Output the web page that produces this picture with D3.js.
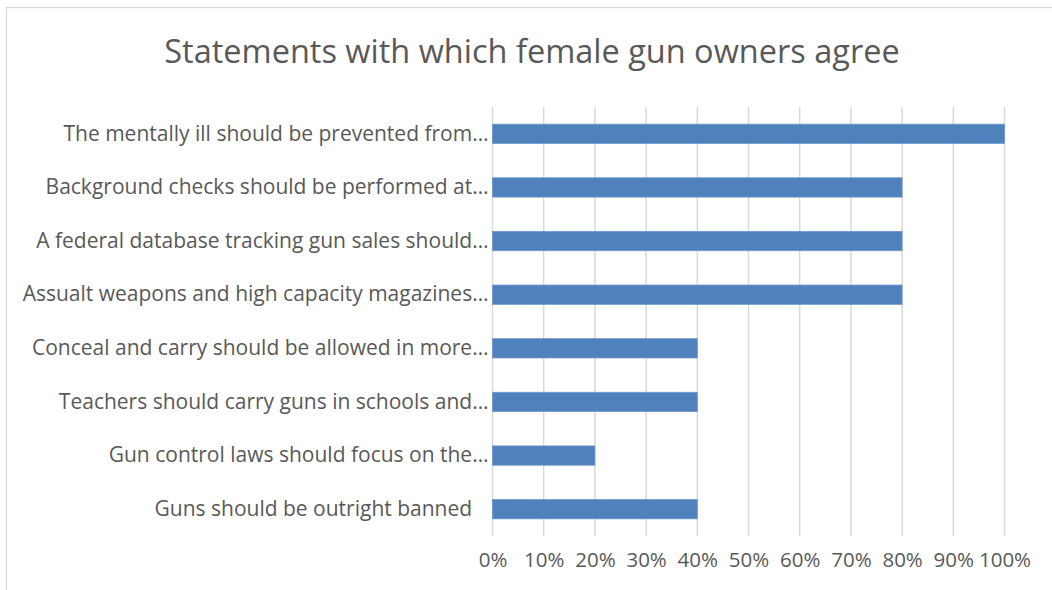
<!DOCTYPE html>
<html>
<head>
<meta charset="utf-8">
<script src="https://cdn.jsdelivr.net/npm/d3@7"></script>
<style>
  body { margin: 0; background: #fff; }
  text { font-family: "Open Sans", "Noto Sans", sans-serif; fill: #595959; }
</style>
</head>
<body>
<svg></svg>
<script>
let width = 1052;
let height = 590;

let chartTitle = "Statements with which female gun owners agree";

let categories = [
  "The mentally ill should be prevented from…",
  "Background checks should be performed at…",
  "A federal database tracking gun sales should…",
  "Assualt weapons and high capacity magazines…",
  "Conceal and carry should be allowed in more…",
  "Teachers should carry guns in schools and…",
  "Gun control laws should focus on the…",
  "Guns should be outright banned   "
];

let values = [1.0, 0.8, 0.8, 0.8, 0.4, 0.4, 0.2, 0.4];

let tickValues = [0, 0.1, 0.2, 0.3, 0.4, 0.5, 0.6, 0.7, 0.8, 0.9, 1.0];

let data = categories.map((c, i) => ({ label: c, value: values[i] }));

let svg = d3.select("svg")
            .attr("width", width)
            .attr("height", height);

// chart frame (runs off the right/bottom edge like the source)
svg.append("rect")
   .attr("x", 6.5)
   .attr("y", 7.5)
   .attr("width", width + 20)
   .attr("height", height + 20)
   .attr("fill", "none")
   .attr("stroke", "#d9d9d9")
   .attr("stroke-width", 1.3);

let margin = { top: 107, right: 47.5, bottom: 54, left: 492.5 };

let xScale = d3.scaleLinear()
               .domain([0, 1])
               .range([margin.left, width - margin.right]);

let yScale = d3.scaleBand()
               .domain(categories)
               .range([margin.top, height - margin.bottom])
               .paddingInner(0.64)
               .paddingOuter(0.32);

// title
svg.append("text")
   .attr("x", 532)
   .attr("y", 63)
   .attr("text-anchor", "middle")
   .style("font-size", "32.5px")
   .text(chartTitle);

// vertical gridlines
svg.append("g")
   .selectAll("line")
   .data(tickValues)
   .enter()
   .append("line")
   .attr("x1", (d) => xScale(d))
   .attr("x2", (d) => xScale(d))
   .attr("y1", margin.top)
   .attr("y2", height - margin.bottom)
   .attr("stroke", "#d9d9d9")
   .attr("stroke-width", 1.5);

// bars
svg.append("g")
   .selectAll("rect")
   .data(data)
   .enter()
   .append("rect")
   .attr("x", xScale(0))
   .attr("y", (d) => yScale(d.label))
   .attr("width", (d) => xScale(d.value) - xScale(0))
   .attr("height", yScale.bandwidth())
   .attr("fill", "#4f81bd")
   .attr("stroke", "#6f98cb")
   .attr("stroke-width", 0.8);

// x axis labels
let xAxis = svg.append("g")
   .attr("transform", "translate(0," + (height - margin.bottom) + ")")
   .call(d3.axisBottom(xScale)
           .tickValues(tickValues)
           .tickFormat(d3.format(".0%"))
           .tickSize(0)
           .tickPadding(16.5));
xAxis.select(".domain").remove();
xAxis.selectAll("text")
     .style("font-size", "20.5px")
     .style("font-family", "\"Open Sans\", sans-serif")
     .attr("fill", "#595959");

// category labels
let yAxis = svg.append("g")
   .attr("transform", "translate(" + (margin.left - 4) + ",0)")
   .call(d3.axisLeft(yScale).tickSize(0).tickPadding(0));
yAxis.select(".domain").remove();
yAxis.selectAll("text")
     .style("font-size", "21px")
     .style("font-family", "\"Open Sans\", sans-serif")
     .style("white-space", "pre")
     .attr("fill", "#595959");
</script>
</body>
</html>
